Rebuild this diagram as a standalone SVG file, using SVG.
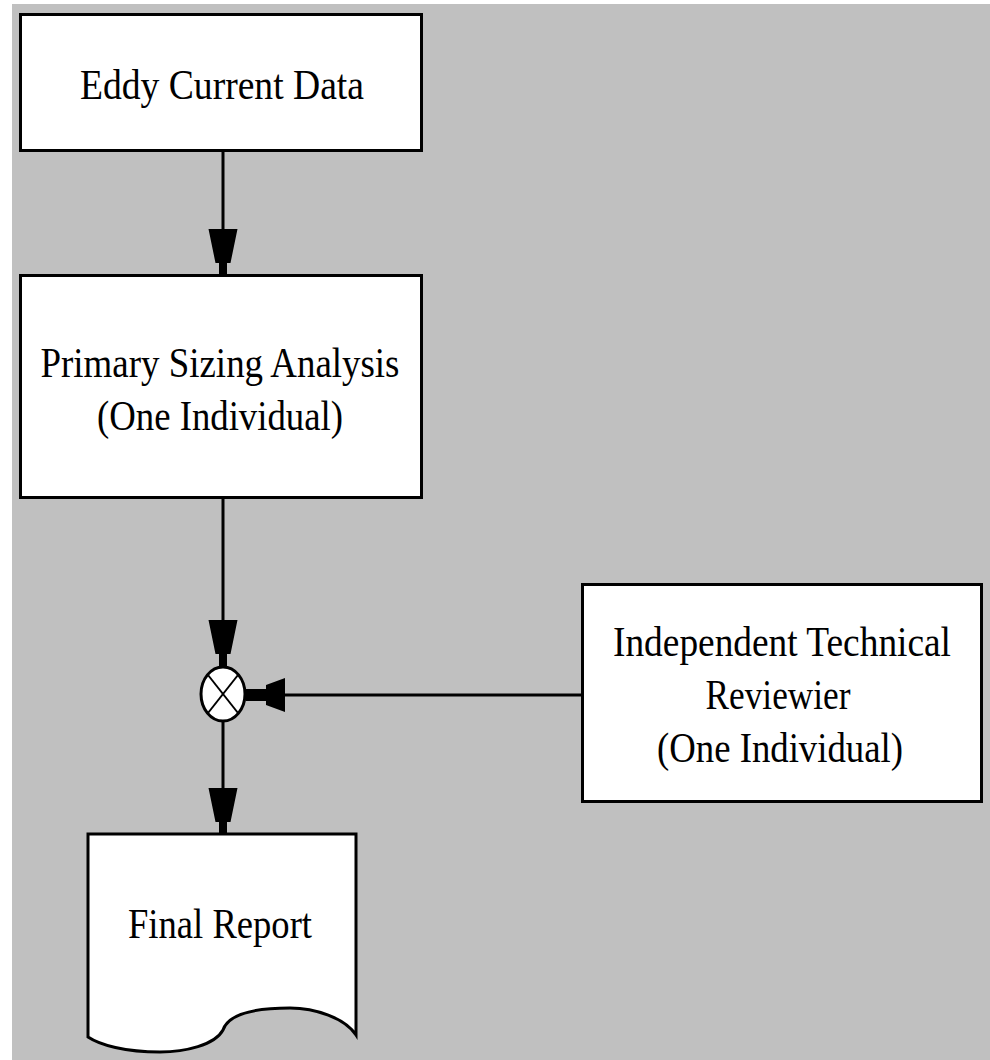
<svg xmlns="http://www.w3.org/2000/svg" width="990" height="1060" viewBox="0 0 990 1060">
  <style>
    .box { fill: #ffffff; stroke: #000000; stroke-width: 3; }
    .wire { fill: none; stroke: #000000; stroke-width: 3; }
    .label { font-family: "Liberation Serif", "Times New Roman", serif; font-size: 42px; fill: #000000; text-anchor: middle; }
  </style>
  <defs>
    <!-- tapered arrowhead with a narrow neck, tip at origin -->
    <marker id="arrowV" markerUnits="userSpaceOnUse" viewBox="-46 -15 46 30" refX="0" refY="0" markerWidth="46" markerHeight="30" orient="auto">
      <path d="M-46,-14.5 L-12,-7.5 L-12,-4 L0,-4 L0,4 L-12,4 L-12,7.5 L-46,14.5 Z" fill="#000000"/>
    </marker>
    <marker id="arrowH" markerUnits="userSpaceOnUse" viewBox="-39 -17 39 34" refX="0" refY="0" markerWidth="39" markerHeight="34" orient="auto">
      <path d="M-39,-17 L-20,-10 L-20,-6 L0,-6 L0,6 L-20,6 L-20,10 L-39,17 Z" fill="#000000"/>
    </marker>
  </defs>

  <!-- canvas -->
  <rect x="0" y="0" width="990" height="1060" fill="#ffffff"/>
  <rect x="12" y="4" width="978" height="1056" fill="#c0c0c0"/>

  <g id="connectors">
    <line class="wire" x1="223" y1="151" x2="223" y2="275" marker-end="url(#arrowV)"/>
    <line class="wire" x1="223" y1="498" x2="223" y2="666" marker-end="url(#arrowV)"/>
    <line class="wire" x1="583" y1="695" x2="246" y2="695" marker-end="url(#arrowH)"/>
    <line class="wire" x1="223" y1="721" x2="223" y2="834" marker-end="url(#arrowV)"/>
  </g>

  <g id="eddy-current-data">
    <rect class="box" x="20.5" y="14.5" width="401" height="136"/>
    <text class="label" x="222" y="99" textLength="284" lengthAdjust="spacingAndGlyphs">Eddy Current Data</text>
  </g>

  <g id="primary-sizing-analysis">
    <rect class="box" x="20.5" y="275.5" width="401" height="222"/>
    <text class="label" x="220" y="377" textLength="359" lengthAdjust="spacingAndGlyphs">Primary Sizing Analysis</text>
    <text class="label" x="220" y="430" textLength="246" lengthAdjust="spacingAndGlyphs">(One Individual)</text>
  </g>

  <g id="summing-junction">
    <ellipse cx="223" cy="694" rx="22" ry="27" fill="#ffffff" stroke="#000000" stroke-width="3"/>
    <line x1="208" y1="675" x2="238" y2="713" stroke="#000000" stroke-width="2"/>
    <line x1="238" y1="675" x2="208" y2="713" stroke="#000000" stroke-width="2"/>
  </g>

  <g id="independent-technical-reviewer">
    <rect class="box" x="582.5" y="584.5" width="399" height="217"/>
    <text class="label" x="782" y="656" textLength="338" lengthAdjust="spacingAndGlyphs">Independent Technical</text>
    <text class="label" x="778" y="709" textLength="145" lengthAdjust="spacingAndGlyphs">Reviewier</text>
    <text class="label" x="780" y="762" textLength="246" lengthAdjust="spacingAndGlyphs">(One Individual)</text>
  </g>

  <g id="final-report">
    <path class="box" d="M88,834 H356 V1035 C345,1018 315,1008 290,1008 C250,1008 228,1015 223,1030 C215,1045 185,1052 160,1052 C125,1052 100,1045 88,1037 Z"/>
    <text class="label" x="220" y="938" textLength="184" lengthAdjust="spacingAndGlyphs">Final Report</text>
  </g>
</svg>
